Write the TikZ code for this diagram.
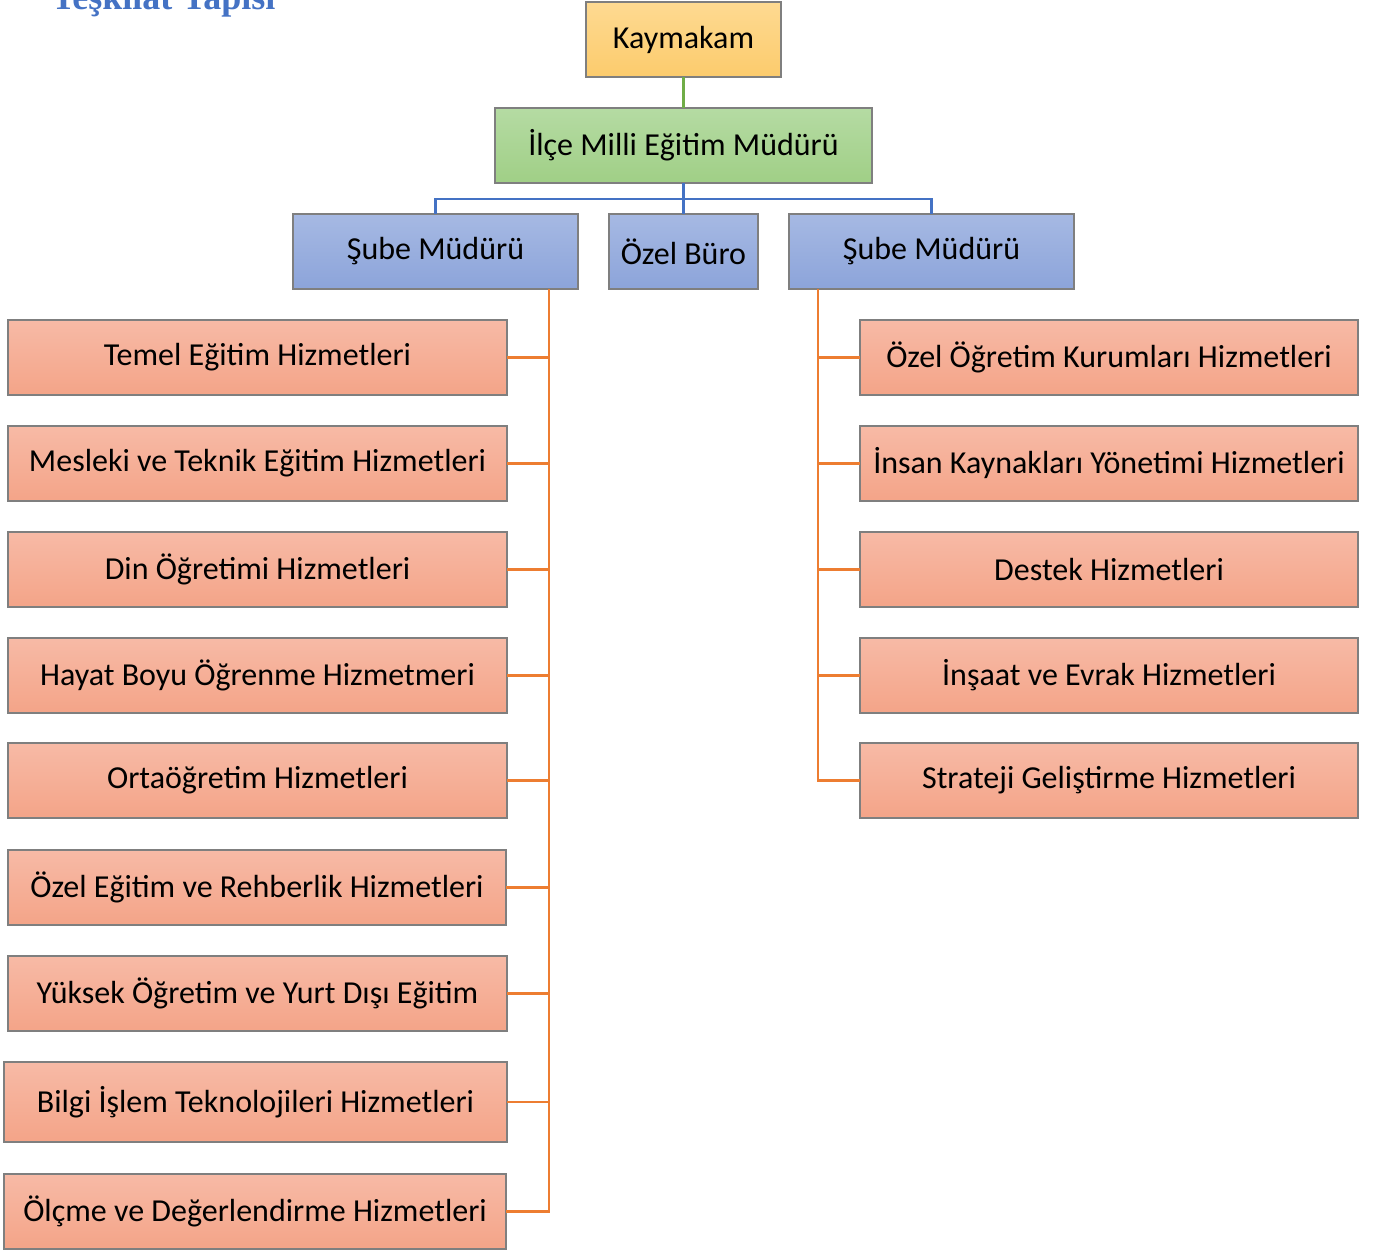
\documentclass[tikz,border=0pt]{standalone}
\usepackage{fontspec}
\setmainfont{Carlito}
\newfontfamily\basfont{Liberation Serif}
\definecolor{cizgi}{HTML}{7F7F7F}
\definecolor{turuncu}{HTML}{ED7D31}
\definecolor{mavi}{HTML}{4472C4}
\definecolor{yesil}{HTML}{70AD47}
\definecolor{sariust}{HTML}{FEDA92}
\definecolor{sarialt}{HTML}{FCCB6C}
\definecolor{yesilust}{HTML}{B5DBA3}
\definecolor{yesilalt}{HTML}{A0CF86}
\definecolor{maviust}{HTML}{A6B9E3}
\definecolor{mavialt}{HTML}{8CA4DA}
\definecolor{somonust}{HTML}{F7BAA6}
\definecolor{somonalt}{HTML}{F4A488}
\tikzset{
  kutu/.style={draw=cizgi, line width=1.3pt, inner sep=0pt, outer sep=0pt,
    minimum height=75pt, font=\fontsize{32}{38}\selectfont},
  sarikutu/.style={kutu, top color=sariust, bottom color=sarialt},
  yesilkutu/.style={kutu, top color=yesilust, bottom color=yesilalt},
  mavikutu/.style={kutu, top color=maviust, bottom color=mavialt},
  somonkutu/.style={kutu, top color=somonust, bottom color=somonalt},
  oline/.style={draw=turuncu, line width=2.2pt},
  bline/.style={draw=mavi, line width=2.2pt},
  gline/.style={draw=yesil, line width=2.2pt}
}
\begin{document}
\begin{tikzpicture}[x=1pt,y=-1pt]
    \useasboundingbox (0,0) rectangle (1378,1251);
    %baslik
    \node[anchor=base west, text=mavi, font=\basfont\bfseries\fontsize{36}{40}\selectfont]
      (baslik) at (48,9) {Teşkilat Yapısı};
    %ust kutular
    \node[sarikutu, minimum width=195pt] (kaymakam) at (683.5,39.5) {Kaymakam};
    \node[yesilkutu, minimum width=377pt] (mudur) at (683.5,145.5) {İlçe Milli Eğitim Müdürü};
    \node[mavikutu, minimum width=285pt] (sube1) at (435.5,251.5) {Şube Müdürü};
    \node[mavikutu, minimum width=149pt] (buro) at (683.5,251.5) {Özel Büro};
    \node[mavikutu, minimum width=285pt] (sube2) at (931.5,251.5) {Şube Müdürü};
    %sol birimler
    \node[somonkutu, minimum width=499pt] (l1) at (257.5,357.5) {Temel Eğitim Hizmetleri};
    \node[somonkutu, minimum width=499pt] (l2) at (257.5,463.5) {Mesleki ve Teknik Eğitim Hizmetleri};
    \node[somonkutu, minimum width=499pt] (l3) at (257.5,569.5) {Din Öğretimi Hizmetleri};
    \node[somonkutu, minimum width=499pt] (l4) at (257.5,675.5) {Hayat Boyu Öğrenme Hizmetmeri};
    \node[somonkutu, minimum width=499pt] (l5) at (257.5,780.5) {Ortaöğretim Hizmetleri};
    \node[somonkutu, minimum width=498pt] (l6) at (257,887.5) {Özel Eğitim ve Rehberlik Hizmetleri};
    \node[somonkutu, minimum width=499pt] (l7) at (257.5,993.5) {Yüksek Öğretim ve Yurt Dışı Eğitim};
    \node[somonkutu, minimum width=503pt, minimum height=80pt] (l8) at (255.5,1102) {Bilgi İşlem Teknolojileri Hizmetleri};
    \node[somonkutu, minimum width=502pt] (l9) at (255,1211.5) {Ölçme ve Değerlendirme Hizmetleri};
    %sag birimler
    \node[somonkutu, minimum width=498pt] (r1) at (1109,357.5) {Özel Öğretim Kurumları Hizmetleri};
    \node[somonkutu, minimum width=498pt] (r2) at (1109,463.5) {İnsan Kaynakları Yönetimi Hizmetleri};
    \node[somonkutu, minimum width=498pt] (r3) at (1109,569.5) {Destek Hizmetleri};
    \node[somonkutu, minimum width=498pt] (r4) at (1109,675.5) {İnşaat ve Evrak Hizmetleri};
    \node[somonkutu, minimum width=498pt] (r5) at (1109,780.5) {Strateji Geliştirme Hizmetleri};
    %baglantilar
    \draw[gline] (kaymakam) -- (mudur);
    \coordinate (dugum) at (683.5,199);
    \draw[bline] (mudur) -- (dugum);
    \draw[bline] (sube1) |- (dugum) -| (sube2);
    \draw[bline] (dugum) -- (buro);
    \coordinate (solhat) at (549,289);
    \coordinate (saghat) at (818,289);
    \draw[oline] (solhat) |- (l9.east);
    \draw[oline] (saghat) |- (r5.west);
    \draw[oline] (l1.east) -- (l1.east -| solhat);
    \draw[oline] (l2.east) -- (l2.east -| solhat);
    \draw[oline] (l3.east) -- (l3.east -| solhat);
    \draw[oline] (l4.east) -- (l4.east -| solhat);
    \draw[oline] (l5.east) -- (l5.east -| solhat);
    \draw[oline] (l6.east) -- (l6.east -| solhat);
    \draw[oline] (l7.east) -- (l7.east -| solhat);
    \draw[oline] (l8.east) -- (l8.east -| solhat);
    \draw[oline] (r1.west) -- (r1.west -| saghat);
    \draw[oline] (r2.west) -- (r2.west -| saghat);
    \draw[oline] (r3.west) -- (r3.west -| saghat);
    \draw[oline] (r4.west) -- (r4.west -| saghat);
\end{tikzpicture}
\end{document}
